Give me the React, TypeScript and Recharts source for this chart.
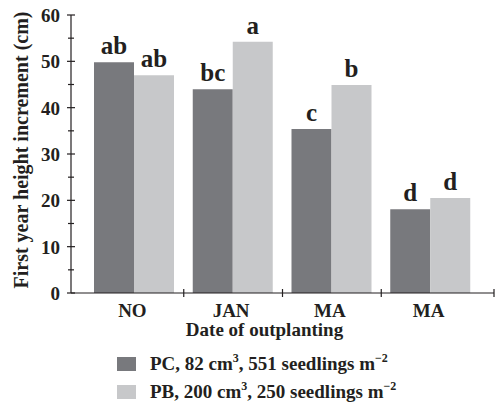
import React from "react";
import { BarChart, Bar, XAxis, YAxis, LabelList } from "recharts";

const categories = ["NO", "JAN", "MA", "MA"];
const pcValues = [49.8, 44.0, 35.4, 18.1];
const pbValues = [47.0, 54.2, 44.9, 20.5];
const pcLetters = ["ab", "bc", "c", "d"];
const pbLetters = ["ab", "a", "b", "d"];
const yTicks = [0, 5, 10, 15, 20, 25, 30, 35, 40, 45, 50, 55, 60];
const majorTicks = [0, 10, 20, 30, 40, 50, 60];
const yLabel = "First year height increment (cm)";
const xLabel = "Date of outplanting";
const legendParts = [
  ["PC, 82 cm", "3", ", 551 seedlings m", "\u22122"],
  ["PB, 200 cm", "3", ", 250 seedlings m", "\u22122"],
];

const DARK = "#78797d";
const LIGHT = "#c7c8ca";
const INK = "#231f20";
const FONT = "'Liberation Serif', 'Times New Roman', serif";
const PAD = 14;
const PLOT_W = 423;
const BAND = (PLOT_W - 2 * PAD) / categories.length;

const data = categories.map((c, i) => ({
  cat: c,
  pc: pcValues[i],
  pb: pbValues[i],
  pcL: pcLetters[i],
  pbL: pbLetters[i],
}));

const YTick = (props: any) => {
  const { x, y, payload } = props;
  const v = payload.value;
  const ax = x + 11;
  const major = majorTicks.includes(v);
  const h = major ? 4 : 3;
  return (
    <g>
      <line x1={ax - h} x2={ax + h} y1={y} y2={y} stroke={INK} strokeWidth={1.2} />
      {major && (
        <text x={x} y={y} dy="0.36em" textAnchor="end" fontFamily={FONT} fontWeight="bold" fontSize={19} fill={INK}>
          {v}
        </text>
      )}
    </g>
  );
};

const XTick = (props: any) => {
  const { x, y, payload, index } = props;
  const tx = index < categories.length - 1 ? x + BAND / 2 : x + BAND / 2 + PAD;
  return (
    <g>
      <line x1={tx} x2={tx} y1={y - 4} y2={y + 4} stroke={INK} strokeWidth={1.2} />
      <text x={x - 2} y={y + 24} textAnchor="middle" fontFamily={FONT} fontWeight="bold" fontSize={19} fill={INK}>
        {payload.value}
      </text>
    </g>
  );
};

const BottomContent = (props: any) => {
  const vb = props.viewBox || { x: 71, y: 293, width: 423, height: 117 };
  const cx = vb.x + vb.width / 2 - 18;
  const colors = [DARK, LIGHT];
  return (
    <g fontFamily={FONT} fontWeight="bold" fill={INK}>
      <text x={cx} y={vb.y + 43} textAnchor="middle" fontSize={19}>
        {xLabel}
      </text>
      {legendParts.map((p, i) => {
        const base = vb.y + 77 + i * 28;
        return (
          <g key={i}>
            <rect x={117} y={base - 13} width={19} height={14} fill={colors[i]} />
            <text x={150} y={base} fontSize={19}>
              <tspan>{p[0]}</tspan>
              <tspan fontSize={12} dy={-8}>{p[1]}</tspan>
              <tspan dy={8}>{p[2]}</tspan>
              <tspan fontSize={12} dy={-8}>{p[3]}</tspan>
            </text>
          </g>
        );
      })}
    </g>
  );
};

const YLabelContent = () => (
  <text
    x={28}
    y={150}
    transform="rotate(-90 28 150)"
    textAnchor="middle"
    fontFamily={FONT}
    fontWeight="bold"
    fontSize={20}
    fill={INK}
  >
    {yLabel}
  </text>
);

export default function App() {
  return (
    <div style={{ position: "absolute", left: 0, top: 0, width: 496, height: 410, background: "#fff" }}>
      <BarChart
        width={496}
        height={410}
        data={data}
        margin={{ top: 15, right: 2, bottom: 0, left: 0 }}
        barCategoryGap={9}
        barGap={0}
      >
        <XAxis
          dataKey="cat"
          height={117}
          padding={{ left: PAD, right: PAD }}
          tickLine={false}
          tickSize={0}
          tickMargin={0}
          tick={<XTick />}
          axisLine={{ stroke: INK, strokeWidth: 1.2 }}
          interval={0}
          label={<BottomContent />}
        />
        <YAxis
          width={71}
          domain={[0, 60]}
          ticks={yTicks}
          interval={0}
          tickLine={false}
          tickSize={0}
          tickMargin={11}
          tick={<YTick />}
          axisLine={{ stroke: INK, strokeWidth: 1.2 }}
          label={<YLabelContent />}
        />
        <Bar dataKey="pc" fill={DARK} isAnimationActive={false}>
          <LabelList dataKey="pcL" position="top" offset={8} fontFamily={FONT} fontWeight="bold" fontSize={25} fill={INK} />
        </Bar>
        <Bar dataKey="pb" fill={LIGHT} isAnimationActive={false}>
          <LabelList dataKey="pbL" position="top" offset={8} fontFamily={FONT} fontWeight="bold" fontSize={25} fill={INK} />
        </Bar>
      </BarChart>
    </div>
  );
}
